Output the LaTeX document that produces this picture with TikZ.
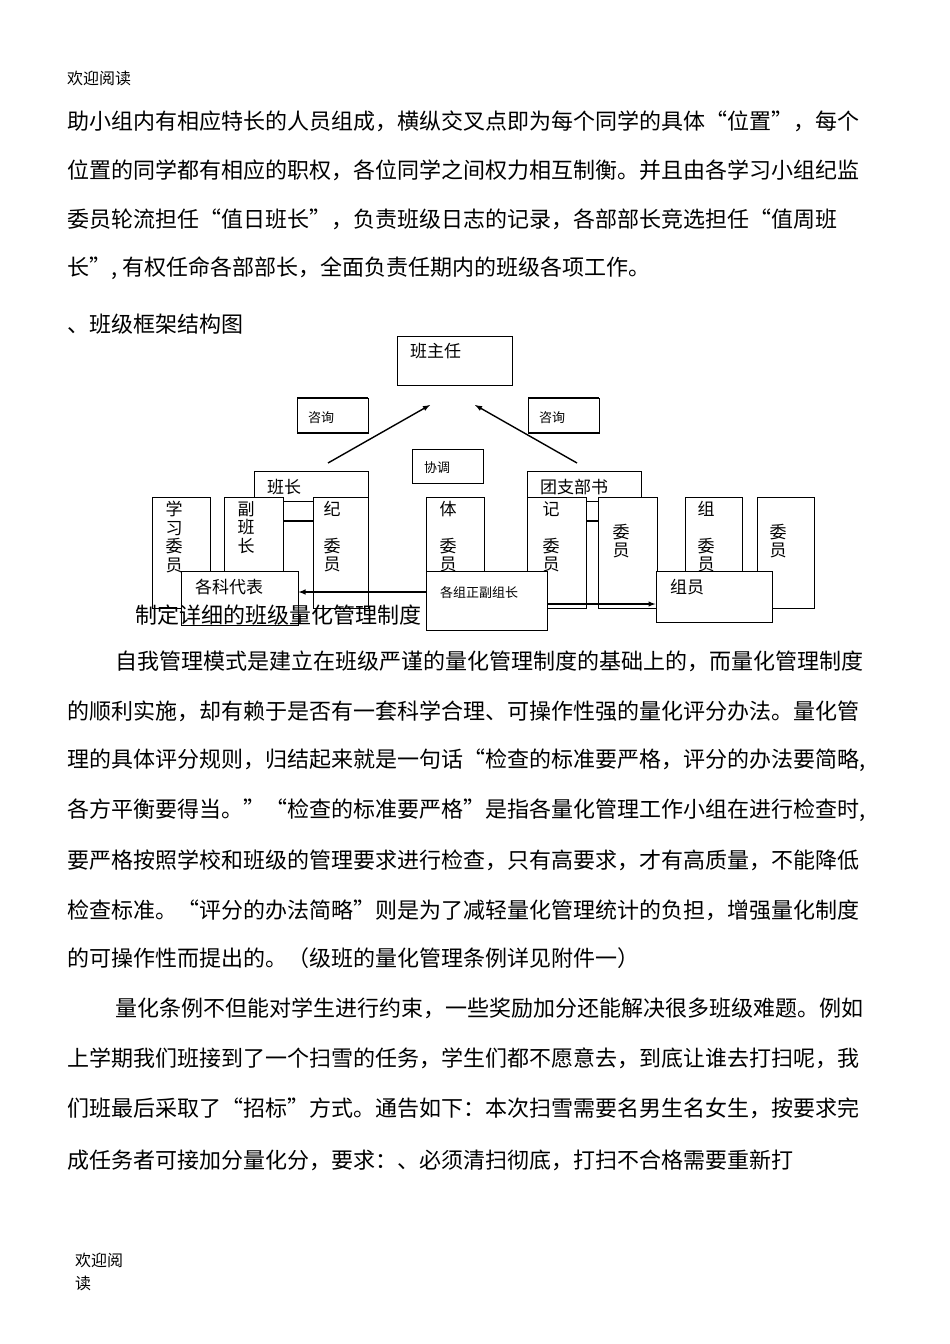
\documentclass[tikz,border=0pt]{standalone}
\usepackage{fontspec}
\setmainfont{Noto Sans CJK SC}
\begin{document}
\begin{tikzpicture}[x=1pt,y=-1pt,
  body/.style={anchor=west,inner sep=0pt,font=\fontsize{22}{22}\selectfont},
  box/.style={draw,fill=white,line width=1pt,inner sep=0pt},
  lab/.style={anchor=north west,inner sep=0pt,font=\fontsize{17}{20}\selectfont},
  small/.style={anchor=west,inner sep=0pt,font=\fontsize{13}{15}\selectfont},
  vlab/.style={anchor=north,inner sep=0pt,align=center,font=\fontsize{17}{18.5}\selectfont},
  arr/.style={line width=1.4pt,-latex}]
\useasboundingbox[fill=white] (0,0) rectangle (950,1344);
\node[body,font=\fontsize{16}{18}\selectfont] (h) at (67,78) {欢迎阅读};
\node[body] (l1) at (67,121) {助小组内有相应特长的人员组成，横纵交叉点即为每个同学的具体“位置”，每个};
\node[body] (l2) at (67,170) {位置的同学都有相应的职权，各位同学之间权力相互制衡。并且由各学习小组纪监};
\node[body] (l3) at (67,219) {委员轮流担任“值日班长”，负责班级日志的记录，各部部长竞选担任“值周班};
\node[body] (l4) at (67,268) {长”, 有权任命各部部长，全面负责任期内的班级各项工作。};
\node[body] (t) at (67,324) {、班级框架结构图};
% diagram
\node[box,minimum width=115,minimum height=49] (zr) at (454.5,360.5) {};
\node[lab] at (410,343) {班主任};
\node[box,minimum width=71,minimum height=35] (zx1) at (332.5,415.5) {};
\draw[line width=2pt] (297,398)--(368,398) (297,433)--(368,433);
\node[small] at (308,418) {咨询};
\node[box,minimum width=71,minimum height=35] (zx2) at (563.5,415.5) {};
\draw[line width=2pt] (528,398)--(599,398) (528,433)--(599,433);
\node[small] at (539,418) {咨询};
\node[box,minimum width=71,minimum height=34] (xt) at (447.5,466) {};
\node[small] at (424,468) {协调};
\node[box,minimum width=114,minimum height=30] (bz) at (311,486) {};
\node[lab] at (267,479) {班长};
\node[box,minimum width=114,minimum height=30] (tz) at (584,486) {};
\node[lab] at (540,479) {团支部书};
\coordinate (a1) at (328,463); \coordinate (a2) at (430,405);
\coordinate (b1) at (577,463); \coordinate (b2) at (475,405);
\draw[arr] (a1)--(a2);
\draw[arr] (b1)--(b2);
\node[box,minimum width=58,minimum height=111] (v1) at (181,552.5) {};
\node[vlab] at (174,501) {学\\习\\委\\员};
\node[box,minimum width=59,minimum height=111] (v2) at (253.5,552.5) {};
\node[vlab] at (246,501) {副\\班\\长};
\node[box,minimum width=55,minimum height=111] (v3) at (340.5,552.5) {};
\node[vlab] at (332,501) {纪\\\\委\\员};
\node[box,minimum width=58,minimum height=111] (v4) at (455,552.5) {};
\node[vlab] at (448,501) {体\\\\委\\员};
\node[box,minimum width=59,minimum height=111] (v5) at (556.5,552.5) {};
\node[vlab] at (551,501) {记\\\\委\\员};
\node[box,minimum width=59,minimum height=111] (v6) at (627.5,552.5) {};
\node[vlab] at (621,501) {\\\\委\\员};
\node[box,minimum width=57,minimum height=111] (v7) at (713.5,552.5) {};
\node[vlab] at (706,501) {组\\\\委\\员};
\node[box,minimum width=57,minimum height=111] (v8) at (785.5,552.5) {};
\node[vlab] at (778,501) {\\\\委\\员};
\draw[line width=1.4pt] (v2.east |- 0,521) -- (v3.west |- 0,521);
\draw[line width=1.4pt] (v5.east |- 0,521) -- (v6.west |- 0,521);
\node[box,minimum width=117,minimum height=54] (kd) at (239.5,598) {};
\node[lab] at (195,579) {各科代表};
\node[box,minimum width=121,minimum height=59] (zz) at (486.5,600.5) {};
\node[small] at (440,593) {各组正副组长};
\node[box,minimum width=116,minimum height=51] (zy) at (714,596.5) {};
\node[lab] at (670,579) {组员};
\draw[arr] (zz.west |- 0,592) -- (kd.east |- 0,592);
\draw[arr] (zz.east |- 0,604) -- (zy.west |- 0,604);
\node[body] (t2) at (135,615) {制定详细的班级量化管理制度};
% paragraph
\node[body] at (115,661) {自我管理模式是建立在班级严谨的量化管理制度的基础上的，而量化管理制度};
\node[body] at (67,711) {的顺利实施，却有赖于是否有一套科学合理、可操作性强的量化评分办法。量化管};
\node[body] at (67,760) {理的具体评分规则，归结起来就是一句话“检查的标准要严格，评分的办法要简略,};
\node[body] at (67,810) {各方平衡要得当。”“检查的标准要严格”是指各量化管理工作小组在进行检查时,};
\node[body] at (67,860) {要严格按照学校和班级的管理要求进行检查，只有高要求，才有高质量，不能降低};
\node[body] at (67,910) {检查标准。“评分的办法简略”则是为了减轻量化管理统计的负担，增强量化制度};
\node[body] at (67,958) {的可操作性而提出的。（级班的量化管理条例详见附件一）};
\node[body] at (115,1008) {量化条例不但能对学生进行约束，一些奖励加分还能解决很多班级难题。例如};
\node[body] at (67,1058) {上学期我们班接到了一个扫雪的任务，学生们都不愿意去，到底让谁去打扫呢，我};
\node[body] at (67,1108) {们班最后采取了“招标”方式。通告如下：本次扫雪需要名男生名女生，按要求完};
\node[body] at (67,1160) {成任务者可接加分量化分，要求：、必须清扫彻底，打扫不合格需要重新打};
\node[body,font=\fontsize{16}{18}\selectfont] at (75,1260) {欢迎阅};
\node[body,font=\fontsize{16}{18}\selectfont] at (75,1283) {读};
\end{tikzpicture}
\end{document}
